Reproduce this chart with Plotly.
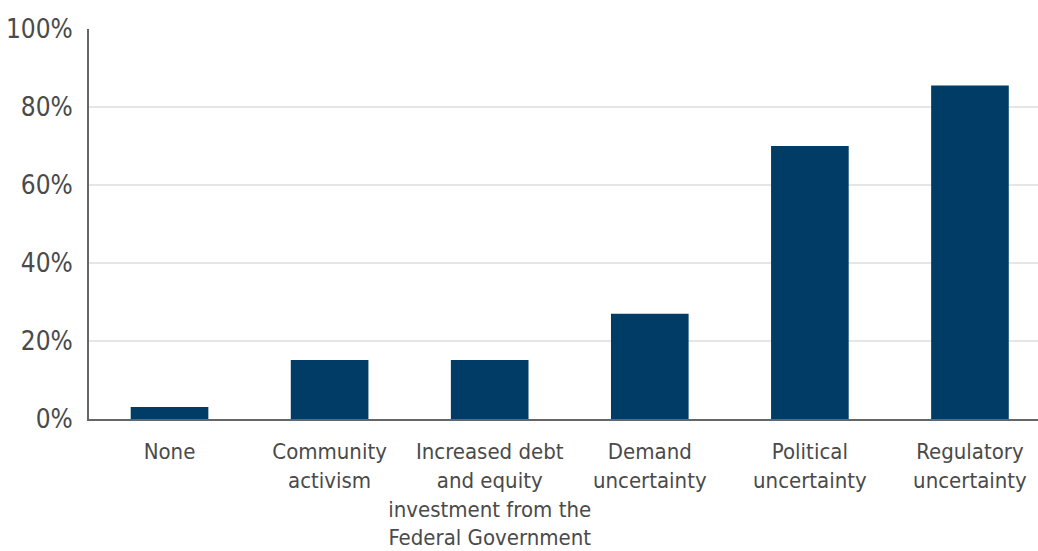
import plotly.graph_objects as go

categories = [
    "None",
    "Community<br>activism",
    "Increased debt<br>and equity<br>investment from the<br>Federal Government",
    "Demand<br>uncertainty",
    "Political<br>uncertainty",
    "Regulatory<br>uncertainty",
]
values = [3.1, 15.1, 15.1, 27, 70, 85.5]
tick_vals = [0, 20, 40, 60, 80, 100]
tick_text = ["0%", "20%", "40%", "60%", "80%", "100%"]

FONT = "Liberation Sans Narrow, Arial Narrow, DejaVu Sans Condensed, Roboto, sans-serif"

fig = go.Figure(
    go.Bar(
        x=list(range(len(categories))),
        y=values,
        marker=dict(color="#013c66", line=dict(width=0)),
        width=0.485,
    )
)

fig.update_layout(
    width=1038,
    height=551,
    margin=dict(l=89, r=0, t=29, b=132),
    paper_bgcolor="white",
    plot_bgcolor="white",
    showlegend=False,
    font=dict(family=FONT, color="#4a4a4a"),
)
fig.update_xaxes(
    tickmode="array",
    tickvals=list(range(len(categories))),
    ticktext=categories,
    range=[-0.503, 5.425],
    tickangle=0,
    automargin=False,
    showgrid=False,
    showline=True,
    linecolor="#666666",
    linewidth=2,
    ticks="",
    ticklabelstandoff=12,
    tickfont=dict(size=22, family=FONT, color="#4a4a4a"),
    zeroline=False,
)
fig.update_yaxes(
    range=[0, 100],
    tickmode="array",
    tickvals=tick_vals,
    ticktext=tick_text,
    automargin=False,
    showgrid=True,
    gridcolor="#e6e6e6",
    gridwidth=2,
    showline=True,
    linecolor="#666666",
    linewidth=2,
    ticks="",
    ticklabelstandoff=9,
    tickfont=dict(size=26, family=FONT, color="#4a4a4a"),
    zeroline=False,
)

fig.write_html("out.html")
